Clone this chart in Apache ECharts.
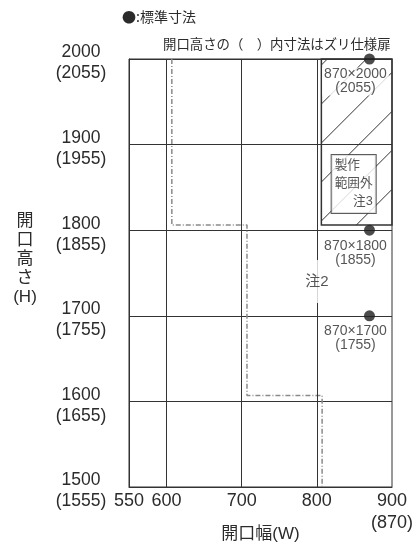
<!DOCTYPE html>
<html lang="ja">
<head>
<meta charset="UTF-8">
<title>開口寸法</title>
<style>html,body{margin:0;padding:0;background:#fff}</style>
</head>
<body>
<div id="container" style="width:414px;height:545px"></div>
<script src="https://cdn.jsdelivr.net/npm/echarts@6/dist/echarts.min.js"></script>
<script>
// 軸の目盛り
var xTickValues = [550, 600, 700, 800, 900];
var xTickLabels = ['550', '600', '700', '800', '900\n(870)'];
var xGridValues = [600, 700, 800];
var yTickValues = [1500, 1600, 1700, 1800, 1900, 2000];
var yTickLabels = ['1500\n(1555)', '1600\n(1655)', '1700\n(1755)', '1800\n(1855)', '1900\n(1955)', '2000\n(2055)'];

// 製作範囲の境界（点線）
var stepLine = [[607, 2000], [607, 1806], [707, 1806], [707, 1607], [807, 1607], [807, 1500]];

// 標準寸法
var standardPoints = [[870, 2000], [870, 1800], [870, 1700]];
var standardLabels = ['870×2000\n(2055)', '870×1800\n(1855)', '870×1700\n(1755)'];

// 製作範囲外 [W始, H始, W終, H終]
var outOfRange = [[806, 1806, 900, 2000]];

// 注記
var note2 = [[800, 1740]];
var note3 = [[849, 1854]];

var FONT = "'Liberation Sans', 'Noto Sans CJK JP', sans-serif";
var INK = '#2b2b2b';

// 上に空きを入れて文字を少し下げる
function richLines(text) {
    return '{s|\u00a0}\n' + text.split('\n').map(function (t) { return '{a|' + t + '}'; }).join('\n');
}

var chart = echarts.init(document.getElementById('container'));

chart.setOption({
    animation: false,
    backgroundColor: '#fff',
    textStyle: { fontFamily: FONT, color: INK },
    graphic: [
        {
            type: 'text', left: 122, top: 10,
            style: { text: '●:標準寸法', fontSize: 14, fontFamily: "'Noto Sans CJK JP', sans-serif", fill: INK }
        },
        {
            type: 'text', left: 163, top: 39,
            style: { text: '開口高さの（　）内寸法はズリ仕様扉', fontSize: 13.4, fontFamily: FONT, fill: INK }
        }
    ],
    grid: {
        left: 129, right: 22, top: 59, bottom: 58,
        outerBoundsMode: 'none',
        show: true, borderColor: '#333', borderWidth: 1
    },
    xAxis: {
        type: 'value', min: 550, max: 900, interval: 50,
        name: '開口幅(W)', nameLocation: 'middle', nameGap: 47, nameMoveOverlap: false,
        nameTextStyle: { fontSize: 17, color: INK, verticalAlign: 'middle', fontFamily: FONT },
        axisLine: { lineStyle: { color: '#333', width: 1 } },
        axisTick: { show: false },
        splitLine: { show: false },
        axisLabel: {
            showMinLabel: true, showMaxLabel: true,
            margin: 3, fontSize: 18, lineHeight: 22, color: INK, verticalAlign: 'top',
            formatter: function (v) {
                var i = xTickValues.indexOf(v);
                return i < 0 ? '' : xTickLabels[i];
            }
        }
    },
    yAxis: {
        type: 'value', min: 1500, max: 2000, interval: 100,
        name: '{a|開}\n{a|口}\n{a|高}\n{a|さ}\n{a|(H)}\n{s|\u00a0}',
        nameLocation: 'middle', nameGap: 104, nameRotate: 0, nameMoveOverlap: false,
        nameTextStyle: {
            align: 'center', verticalAlign: 'middle',
            rich: {
                a: { fontSize: 17, lineHeight: 19, color: INK, fontFamily: FONT },
                s: { fontSize: 8, lineHeight: 28 }
            }
        },
        axisLine: { lineStyle: { color: '#333', width: 1 } },
        axisTick: { show: false },
        splitLine: { show: true, lineStyle: { color: '#333', width: 1 } },
        axisLabel: {
            margin: 48, align: 'center', verticalAlign: 'middle',
            formatter: function (v) {
                var i = yTickValues.indexOf(v);
                return i < 0 ? '' : richLines(yTickLabels[i]);
            },
            rich: {
                a: { fontSize: 17.5, lineHeight: 21, color: INK, fontFamily: FONT, align: 'center' },
                s: { fontSize: 6, lineHeight: 8 }
            }
        }
    },
    series: [
        {
            type: 'custom',
            z: 2,
            silent: true,
            data: outOfRange,
            encode: { x: [0, 2], y: [1, 3] },
            renderItem: function (params, api) {
                var p0 = api.coord([api.value(0), api.value(3)]);
                var p1 = api.coord([api.value(2), api.value(1)]);
                var x0 = p0[0], y0 = p0[1], x1 = p1[0], y1 = p1[1];
                var children = [];
                // 斜線ハッチ
                for (var c = x0 + y0 + 6; c < x1 + y1; c += 39) {
                    var xa = Math.max(x0, c - y1), xb = Math.min(x1, c - y0);
                    if (xb <= xa) continue;
                    children.push({
                        type: 'line',
                        shape: { x1: xa, y1: c - xa, x2: xb, y2: c - xb },
                        style: { stroke: '#333', lineWidth: 1 }
                    });
                }
                children.push({
                    type: 'rect',
                    shape: { x: x0, y: y0, width: x1 - x0, height: y1 - y0 },
                    style: { fill: null, stroke: '#333', lineWidth: 1.5 }
                });
                return { type: 'group', children: children };
            }
        },
        {
            type: 'line',
            z: 3,
            silent: true,
            data: stepLine,
            symbol: 'none',
            lineStyle: { color: '#8a8a8a', width: 1.5, type: [5, 2, 1, 2] },
            markLine: {
                silent: true,
                symbol: ['none', 'none'],
                label: { show: false },
                lineStyle: { color: '#333', width: 1, type: 'solid' },
                data: xGridValues.map(function (v) { return { xAxis: v }; })
            }
        },
        {
            type: 'scatter',
            z: 5,
            data: standardPoints,
            symbolSize: 11,
            itemStyle: { color: '#1e1e1e' },
            label: {
                show: true, position: 'bottom', distance: 3, offset: [-14, 0],
                fontSize: 14, lineHeight: 14, color: INK, align: 'center',
                backgroundColor: '#fff', padding: [0, 2],
                formatter: function (p) { return standardLabels[p.dataIndex]; }
            }
        },
        {
            type: 'scatter',
            z: 6,
            data: note2,
            symbolSize: 0,
            label: {
                show: true, position: 'inside', formatter: '注2',
                fontSize: 15, color: INK, backgroundColor: '#fff', padding: [14, 3]
            }
        },
        {
            type: 'scatter',
            z: 6,
            data: note3,
            symbolSize: 0,
            label: {
                show: true, position: 'inside',
                formatter: '{l|製作}\n{l|範囲外}\n{r|注3}',
                backgroundColor: '#fff', borderColor: '#333', borderWidth: 1, padding: [2, 3],
                rich: {
                    l: { fontSize: 12.7, lineHeight: 18, color: INK, align: 'left', fontFamily: FONT },
                    r: { fontSize: 12.7, lineHeight: 18, color: INK, align: 'right', fontFamily: FONT }
                }
            }
        }
    ]
});
</script>
</body>
</html>
